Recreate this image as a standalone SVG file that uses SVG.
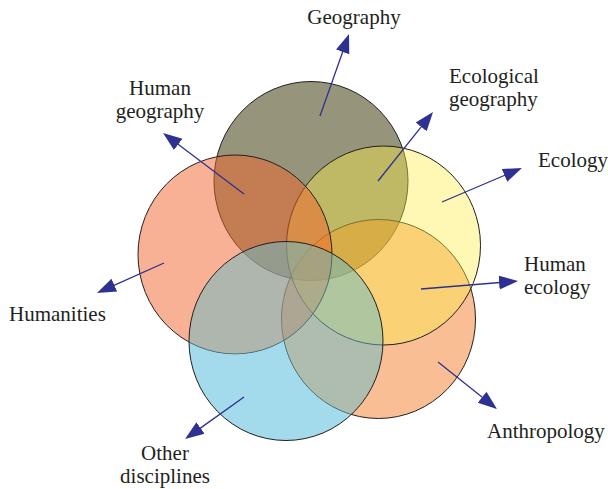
<svg xmlns="http://www.w3.org/2000/svg" width="608" height="489" viewBox="0 0 608 489">
<style>
.ln { fill:none; stroke:#231F20; stroke-width:1; }
.lbl { font-family:"Liberation Serif","Times New Roman",serif; font-size:21px; fill:#231F20; }
.arr { fill:none; stroke:#2E3192; stroke-width:1.3; marker-end:url(#ah); }
</style>
<defs>
<marker id="ah" markerUnits="userSpaceOnUse" markerWidth="20" markerHeight="16" refX="1" refY="8" orient="auto">
<path d="M0,1 L19,8 L0,15 Z" fill="#2E3192"/>
</marker>
<mask id="oOnly" maskUnits="userSpaceOnUse" x="0" y="0" width="608" height="489">
<ellipse cx="286" cy="341" rx="97" ry="99.5" fill="#fff"/>
<ellipse cx="311" cy="181" rx="97.8" ry="100.3" fill="#000"/>
<ellipse cx="235" cy="254.5" rx="97.8" ry="100.3" fill="#000"/>
<ellipse cx="383.5" cy="245.5" rx="97.8" ry="100.3" fill="#000"/>
<ellipse cx="378.5" cy="319" rx="97.8" ry="100.3" fill="#000"/>
</mask>
</defs>
<rect width="608" height="489" fill="#fff"/>

<g id="geography">
<ellipse class="ln" cx="311" cy="181" rx="97" ry="99.5" style="fill:#96947A"/>
<text class="lbl" x="354" y="24" text-anchor="middle">Geography</text>
</g>

<g id="anthropology">
<ellipse class="ln" cx="378.5" cy="319" rx="97" ry="99.5" style="fill:rgb(242,111,17);fill-opacity:0.45"/>
<text class="lbl" x="487" y="438">Anthropology</text>
</g>

<g id="ecology">
<ellipse class="ln" cx="383.5" cy="245.5" rx="97" ry="99.5" style="fill:rgb(252,237,68);fill-opacity:0.4"/>
<text class="lbl" x="538" y="167">Ecology</text>
</g>

<g id="humanities">
<ellipse class="ln" cx="235" cy="254.5" rx="97" ry="99.5" style="fill:rgb(241,99,41);fill-opacity:0.5"/>
<text class="lbl" x="9" y="321">Humanities</text>
</g>

<g id="other-disciplines">
<ellipse cx="286" cy="341" rx="97" ry="99.5" style="fill:rgb(102,187,200);fill-opacity:0.5"/>
<ellipse cx="286" cy="341" rx="97" ry="99.5" fill="#A3DBEC" mask="url(#oOnly)"/>
<ellipse class="ln" cx="286" cy="341" rx="97" ry="99.5"/>
<text class="lbl" x="165" y="460" text-anchor="middle">Other</text>
<text class="lbl" x="165" y="483" text-anchor="middle">disciplines</text>
</g>

<g id="human-geography">
<text class="lbl" x="160" y="95" text-anchor="middle">Human</text>
<text class="lbl" x="160" y="118" text-anchor="middle">geography</text>
</g>

<g id="ecological-geography">
<text class="lbl" x="449" y="83">Ecological</text>
<text class="lbl" x="449" y="106">geography</text>
</g>

<g id="human-ecology">
<text class="lbl" x="524" y="271">Human</text>
<text class="lbl" x="524" y="294">ecology</text>
</g>

<g id="connectors">
<line class="arr" x1="320" y1="116" x2="343" y2="51"/>
<line class="arr" x1="378" y1="181" x2="421.8" y2="126.1"/>
<line class="arr" x1="442" y1="202" x2="505.4" y2="175"/>
<line class="arr" x1="421" y1="289" x2="500.1" y2="282.5"/>
<line class="arr" x1="438" y1="362" x2="482.9" y2="397.8"/>
<line class="arr" x1="244" y1="397" x2="199.7" y2="428.6"/>
<line class="arr" x1="164" y1="263" x2="113.4" y2="285.6"/>
<line class="arr" x1="244" y1="194" x2="177.4" y2="143.8"/>
</g>
</svg>
